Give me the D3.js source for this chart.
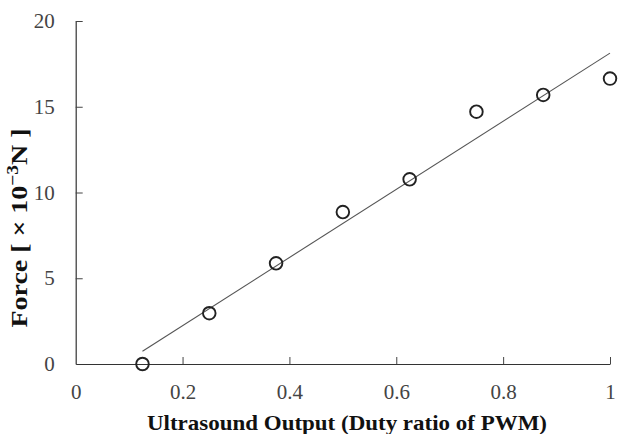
<!DOCTYPE html>
<html>
<head>
<meta charset="utf-8">
<script src="https://cdn.jsdelivr.net/npm/d3@7"></script>
<style>
  html, body { margin: 0; padding: 0; background: #fff; }
  svg { display: block; }
  .tick text { font-family: "Liberation Serif", "Times New Roman", serif; font-size: 21px; fill: #444; }
  .axis-title { font-family: "Liberation Serif", "Times New Roman", serif; font-weight: bold; font-size: 22px; fill: #111; }
</style>
</head>
<body>
<svg id="chart" width="619" height="434"></svg>
<script>
// Duty ratio of the PWM drive and the measured force (×10^-3 N)
const dutyRatio = [0.125, 0.25, 0.375, 0.5, 0.625, 0.75, 0.875, 1.0];
const force = [0.0, 2.96, 5.87, 8.86, 10.77, 14.71, 15.69, 16.64];
const xTicks = [0, 0.2, 0.4, 0.6, 0.8, 1];
const yTicks = [0, 5, 10, 15, 20];

const svg = d3.select("#chart");
const margin = { left: 75.7, right: 9, top: 21, bottom: 70 };
const W = 619, H = 434;

const x = d3.scaleLinear().domain([0, 1]).range([margin.left, W - margin.right]);
const y = d3.scaleLinear().domain([0, 20]).range([H - margin.bottom, margin.top]);

// Least-squares fit through the measured points
const mx = d3.mean(dutyRatio), my = d3.mean(force);
const sxy = d3.sum(dutyRatio, (d, i) => (d - mx) * (force[i] - my));
const sxx = d3.sum(dutyRatio, d => (d - mx) * (d - mx));
const slope = sxy / sxx, intercept = my - slope * mx;
const x0 = d3.min(dutyRatio), x1 = d3.max(dutyRatio);

// Axes: ticks point inward
const xAxis = d3.axisBottom(x).tickValues(xTicks).tickSizeInner(-7).tickSizeOuter(0)
  .tickPadding(20).tickFormat(d => d === 0 ? "0" : d === 1 ? "1" : d3.format(".1f")(d));
const yAxis = d3.axisLeft(y).tickValues(yTicks).tickSizeInner(-7).tickSizeOuter(0)
  .tickPadding(21);

const gx = svg.append("g").attr("transform", `translate(0,${y(0)})`).call(xAxis);
const gy = svg.append("g").attr("transform", `translate(${x(0)},0)`).call(yAxis);
[gx, gy].forEach(g => {
  g.attr("font-family", null).attr("font-size", null);
  g.select(".domain").attr("stroke", "#333").attr("stroke-width", 1.2);
  g.selectAll(".tick line").attr("stroke", "#444").attr("stroke-width", 1);
});
gx.selectAll(".tick").filter(d => d === 0).select("line").remove();
gy.selectAll(".tick").filter(d => d === 0).select("line").remove();

// Trend line
svg.append("line")
  .attr("x1", x(x0)).attr("y1", y(intercept + slope * x0))
  .attr("x2", x(x1)).attr("y2", y(intercept + slope * x1))
  .attr("stroke", "#555").attr("stroke-width", 1.1);

// Measured points
svg.append("g").selectAll("circle")
  .data(dutyRatio.map((d, i) => ({ d, f: force[i] })))
  .join("circle")
  .attr("cx", p => x(p.d)).attr("cy", p => y(p.f))
  .attr("r", 6.3)
  .attr("fill", "none").attr("stroke", "#222").attr("stroke-width", 1.9);

// Axis titles
svg.append("text").attr("class", "axis-title")
  .attr("x", 347).attr("y", 430).attr("text-anchor", "middle")
  .attr("textLength", 400).attr("lengthAdjust", "spacingAndGlyphs")
  .text("Ultrasound Output (Duty ratio of PWM)");

const yt = svg.append("text").attr("class", "axis-title")
  .attr("transform", "translate(27,228) rotate(-90)")
  .attr("text-anchor", "middle")
  .style("font-size", "23px")
  .attr("textLength", 199).attr("lengthAdjust", "spacingAndGlyphs");
yt.append("tspan").text("Force [ × 10");
yt.append("tspan").attr("dy", -9).style("font-size", "16px").text("−3");
yt.append("tspan").attr("dy", 9).text("N ]");
</script>
</body>
</html>
